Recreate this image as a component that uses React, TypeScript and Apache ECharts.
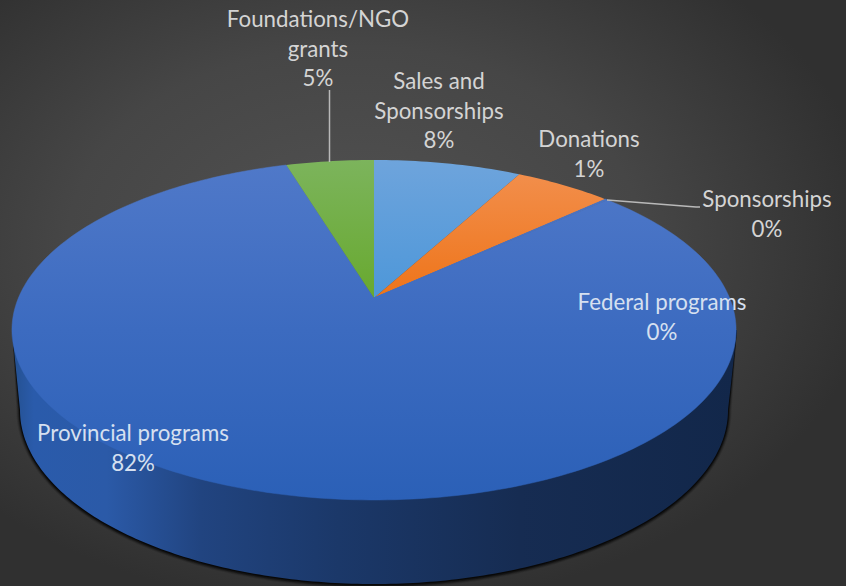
import React, { useEffect, useRef } from "react";
import * as echarts from "echarts";

const categories = [
  "Sales and\nSponsorships",
  "Donations",
  "Sponsorships",
  "Federal programs",
  "Provincial programs",
  "Foundations/NGO\ngrants",
];
const sliceValues = [7.9, 5.2, 0.05, 0.1, 82.05, 4.7];
const percentLabels = ["8%", "1%", "0%", "0%", "82%", "5%"];

const total = sliceValues.reduce((a, b) => a + b, 0);
const starts: number[] = [];
sliceValues.reduce((acc, v, i) => {
  starts[i] = acc;
  return acc + v;
}, 0);

// Projection of the tilted disc (perspective) onto the page
const CX = 374;
const CY = 298;
const K = 0.188;
const A = 164;
const R = 355.6;
function project(t: number): number[] {
  const u = Math.sin(t);
  const v = Math.cos(t);
  const w = 1 + K * v;
  return [CX + (R * u) / w, CY - (A * v) / w];
}

const W = 846;
const H = 586;

function lg(stops: [number, string][], global = false, y0 = 0, y1 = 1) {
  return new echarts.graphic.LinearGradient(
    0,
    y0,
    0,
    y1,
    stops.map(([offset, color]) => ({ offset, color })),
    global
  );
}

const blueFill = lg([[0, "#5079c9"], [0.5, "#3c6bc0"], [1, "#2b60b7"]], true, 160, 500);
const sliceFills = [
  lg([[0, "#6ea4dc"], [1, "#4d97d9"]]),
  lg([[0, "#f28e4b"], [1, "#ee7419"]]),
  blueFill,
  blueFill,
  blueFill,
  lg([[0, "#7cb45c"], [1, "#68a92f"]]),
];

const labelPlacement = [
  { x: 439, y: 66 },
  { x: 589, y: 124 },
  { x: 767, y: 184 },
  { x: 662, y: 287 },
  { x: 133, y: 418 },
  { x: 318, y: 4 },
];
const labelColors = ["#d4d4d4", "#d4d4d4", "#d4d4d4", "#d6e0f0", "#d6e0f0", "#d4d4d4"];

function renderSlice(params: any, api: any) {
  const i = params.dataIndex;
  const v = api.value(0);
  const a0 = (starts[i] / total) * Math.PI * 2;
  const a1 = a0 + (v / total) * Math.PI * 2;
  const steps = Math.max(2, Math.ceil((a1 - a0) / 0.02));
  const points: number[][] = [[CX, CY]];
  for (let s = 0; s <= steps; s++) points.push(project(a0 + ((a1 - a0) * s) / steps));
  return {
    type: "polygon",
    shape: { points },
    style: { fill: sliceFills[i], stroke: i >= 2 && i <= 4 ? blueFill : "none", lineWidth: i >= 2 && i <= 4 ? 0.5 : 0 },
    silent: true,
  };
}

function wallPoints(grow: number, dy: number) {
  const bx = 374, by = 410 + dy, brx = 354 + grow, bry = 174 + grow;
  const points: number[][] = [[737, 330]];
  for (let s = 0; s <= 200; s++) {
    const a = (Math.PI * s) / 200;
    points.push([bx + brx * Math.cos(a), by + bry * Math.sin(a)]);
  }
  points.push([12, 330]);
  return points;
}

function renderWall() {
  const halos = [
    { grow: 3.5, dy: 1, alpha: 0.12 },
    { grow: 2.5, dy: 1, alpha: 0.22 },
    { grow: 1.5, dy: 1, alpha: 0.4 },
    { grow: 0.8, dy: 0.5, alpha: 0.6 },
  ].map((h) => ({
    type: "polygon",
    shape: { points: wallPoints(h.grow, h.dy) },
    style: { fill: `rgba(0,0,0,${h.alpha})` },
    silent: true,
  }));
  return {
    type: "group",
    children: [
      ...halos,
      {
        type: "polygon",
        shape: { points: wallPoints(0, 0) },
        style: {
          fill: new echarts.graphic.LinearGradient(0, 0, 1, 0, [
            { offset: 0, color: "#24508f" },
            { offset: 0.03, color: "#2a5bab" },
            { offset: 0.13, color: "#2b5aa8" },
            { offset: 0.26, color: "#214480" },
            { offset: 0.45, color: "#1b3869" },
            { offset: 0.7, color: "#162c52" },
            { offset: 1, color: "#12274a" },
          ]),
        },
        silent: true,
      },
    ],
  };
}

export default function App() {
  const ref = useRef<HTMLDivElement>(null);
  useEffect(() => {
    document.body.style.margin = "0";
    if (!ref.current) return;
    const chart = echarts.init(ref.current, undefined, { renderer: "svg" });
    const labels = categories.map((name, i) => ({
      type: "text",
      x: labelPlacement[i].x,
      y: labelPlacement[i].y,
      z: 10,
      silent: true,
      style: {
        text: `${name}\n${percentLabels[i]}`,
        fill: labelColors[i],
        font: '22.3px Lato, "Noto Sans", sans-serif',
        align: "center",
        verticalAlign: "top",
        lineHeight: 29.5,
      },
    }));
    chart.setOption({
      animation: false,
      backgroundColor: new echarts.graphic.RadialGradient(0.42, 0.42, 0.62, [
        { offset: 0, color: "#525252" },
        { offset: 0.55, color: "#464646" },
        { offset: 1, color: "#303030" },
      ]),
      series: [
        {
          type: "custom",
          coordinateSystem: "none",
          renderItem: renderWall,
          data: [[1]],
          silent: true,
          z: 1,
        },
        {
          type: "custom",
          coordinateSystem: "none",
          renderItem: renderSlice,
          data: sliceValues.map((v) => [v]),
          silent: true,
          z: 2,
        },
      ],
      graphic: {
        elements: [
          {
            type: "line",
            z: 9,
            silent: true,
            shape: { x1: 329.5, y1: 90, x2: 329.5, y2: 162 },
            style: { stroke: "#b9b9b9", lineWidth: 1.5 },
          },
          {
            type: "polyline",
            z: 9,
            silent: true,
            shape: { points: [[607, 200], [696, 207], [700, 207]] },
            style: { stroke: "#b9b9b9", lineWidth: 1.5, fill: "none" },
          },
          ...labels,
        ],
      },
    });
    return () => chart.dispose();
  }, []);
  return <div ref={ref} style={{ width: W, height: H }} />;
}
